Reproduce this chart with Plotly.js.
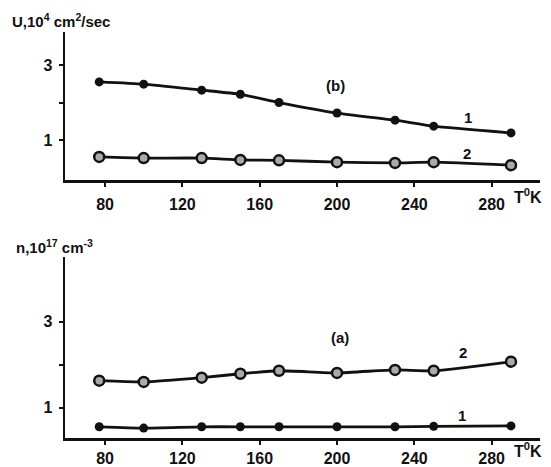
<!DOCTYPE html>
<html>
<head>
<script src="https://cdn.plot.ly/plotly-3.0.1.min.js"></script>
<style>html,body{margin:0;padding:0;background:#fff;}</style>
</head>
<body>
<div id="chart" style="width:551px;height:467px;"></div>
<script>
// Temperatures (K)
const T = [77, 100, 130, 150, 170, 200, 230, 250, 290];
// (b) mobility U, 10^4 cm^2/sec
const U1 = [2.55, 2.49, 2.33, 2.22, 2.0, 1.72, 1.53, 1.37, 1.19];
const U2 = [0.55, 0.52, 0.52, 0.47, 0.46, 0.41, 0.39, 0.41, 0.33];
// (a) concentration n, 10^17 cm^-3
const N2 = [1.63, 1.60, 1.70, 1.79, 1.86, 1.81, 1.88, 1.86, 2.07];
const N1 = [0.56, 0.53, 0.56, 0.56, 0.56, 0.56, 0.56, 0.57, 0.58];
const xTicks = [80, 120, 160, 200, 240, 280];
const yTicks = [1, 2, 3];
const yTickText = ['1', '', '3'];

const fam = 'Liberation Sans, Arial, sans-serif';
const filled = {symbol: 'circle', size: 9, color: '#111'};
const open = {symbol: 'circle', size: 10, color: '#aaa', line: {color: '#111', width: 2.5}};
const ln = {color: '#111', width: 2.8, shape: 'spline', smoothing: 0.5};

const traces = [
  {x: T, y: U1, xaxis: 'x', yaxis: 'y', mode: 'lines+markers', line: ln, marker: filled},
  {x: T, y: U2, xaxis: 'x', yaxis: 'y', mode: 'lines+markers', line: ln, marker: open},
  {x: T, y: N2, xaxis: 'x2', yaxis: 'y2', mode: 'lines+markers', line: ln, marker: open},
  {x: T, y: N1, xaxis: 'x2', yaxis: 'y2', mode: 'lines+markers', line: ln, marker: filled}
];

const tickFont = {family: fam, size: 16, color: '#111', weight: 'bold'};
function xa(anchor, standoff) {
  return {anchor: anchor, range: [59.3, 305], tickvals: xTicks, showgrid: false, zeroline: false,
    showline: true, linecolor: '#111', linewidth: 2.5, ticks: 'outside', ticklen: 4, tickwidth: 2,
    tickcolor: '#111', tickfont: tickFont, ticklabelstandoff: standoff};
}
function ya(anchor, dom, rng) {
  return {anchor: anchor, domain: dom, range: rng, tickvals: yTicks, ticktext: yTickText, showgrid: false,
    zeroline: false, showline: true, linecolor: '#111', linewidth: 2.5, ticks: 'outside', ticklen: 4,
    tickwidth: 2, tickcolor: '#111', tickfont: tickFont, ticklabelstandoff: 3};
}

const bold = {family: fam, size: 15, color: '#111', weight: 'bold'};
const big = {family: fam, size: 16, color: '#111', weight: 'bold'};
const ann = (x, y, text, xanchor, f) => ({x: x, y: y, text: text, showarrow: false,
  xanchor: xanchor || 'center', yanchor: 'middle', font: f || bold});

const layout = {
  width: 551, height: 467, margin: {l: 65, r: 11, t: 32, b: 29},
  paper_bgcolor: '#fff', plot_bgcolor: '#fff', showlegend: false,
  xaxis: xa('y', 4), yaxis: ya('x', [0.635, 1], [-0.07, 3.88]),
  xaxis2: xa('y2', 0), yaxis2: ya('x2', [0, 0.446], [0.30, 4.5]),
  annotations: [
    ann(10, 20, 'U,10<sup>4</sup> cm<sup>2</sup>/sec', 'left'),
    ann(14, 247, 'n,10<sup>17</sup> cm<sup>-3</sup>', 'left'),
    ann(512, 196, 'T<sup>0</sup>K', 'left', big),
    ann(512, 450, 'T<sup>0</sup>K', 'left', big),
    ann(335, 85, '(b)'),
    ann(468, 118, '1'),
    ann(467, 153, '2'),
    ann(340, 337, '(a)'),
    ann(463, 352, '2'),
    ann(462, 415, '1')
  ]
};
// convert pixel positions to paper coordinates
layout.annotations.forEach(a => {
  a.xref = 'paper'; a.yref = 'paper';
  a.x = (a.x - 65) / (551 - 65 - 11);
  a.y = (467 - 29 - a.y) / (467 - 32 - 29);
});
Plotly.newPlot('chart', traces, layout, {displayModeBar: false, staticPlot: true});
</script>
</body>
</html>
